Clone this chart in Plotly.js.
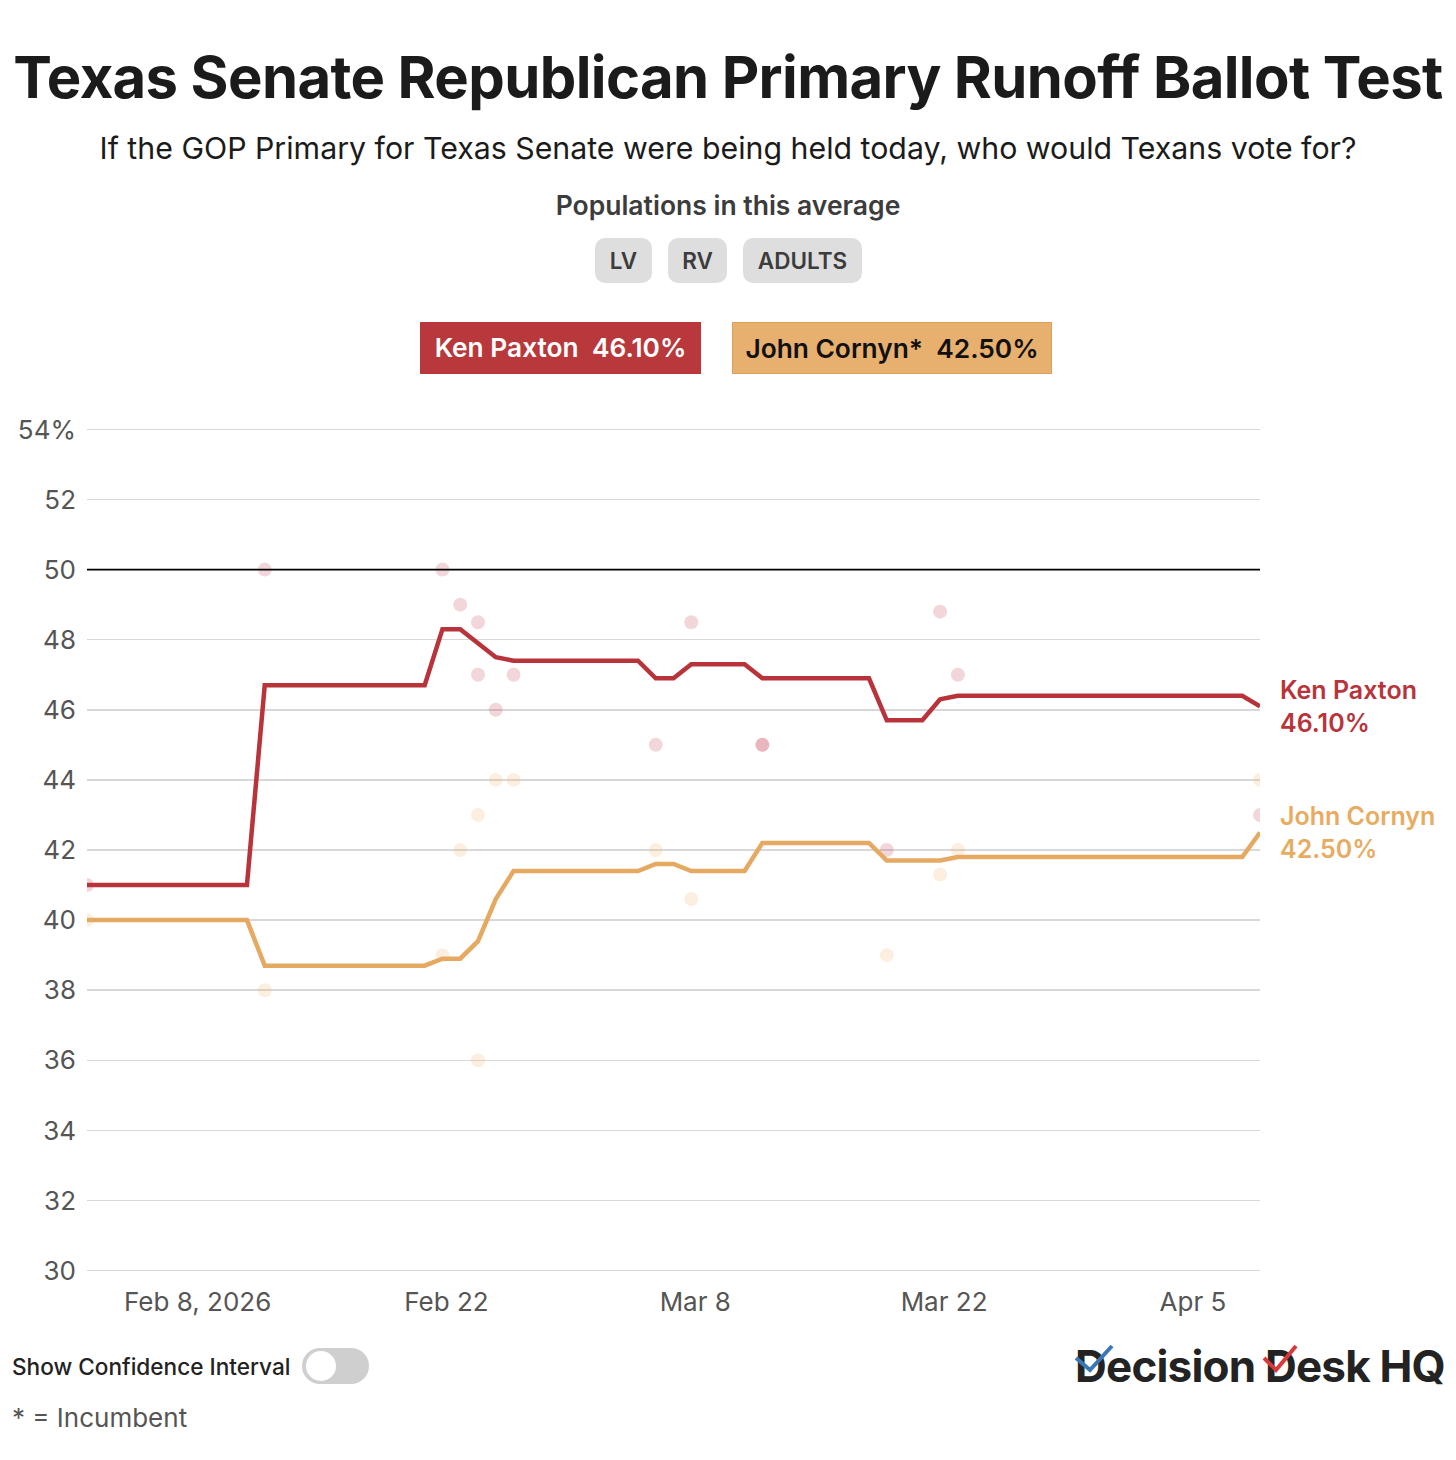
<!DOCTYPE html>
<html>
<head>
<meta charset="utf-8">
<script src="https://cdn.plot.ly/plotly-3.0.1.min.js"></script>
<style>
  body { margin: 0; background: #fff; font-family: Inter, "Noto Sans", sans-serif; }
  #wrap { position: relative; width: 1456px; height: 1460px; overflow: hidden; }
  #chart { position: absolute; left: 0; top: 0; width: 1456px; height: 1460px; }
  .abs { position: absolute; white-space: nowrap; z-index: 5; }
  .mid { transform: translateY(-50%); }
  .ctr { left: 0; width: 1456px; text-align: center; }
  #title { font-weight: 700; font-size: 58px; color: #1b1b1b; top: 77px; }
  #subtitle { font-size: 30.3px; color: #1b1b1b; top: 148px; }
  #pops { font-weight: 600; font-size: 26.5px; color: #3c3c3c; top: 205px; }
  .pill { top: 238px; height: 45px; line-height: 45px; background: #dedede; border-radius: 10px;
          text-align: center; font-weight: 600; font-size: 22.5px; color: #3c3c3c; }
  .box { top: 322px; height: 52px; line-height: 52px; text-align: center; font-weight: 600; font-size: 26.3px; box-sizing: border-box; }
  #toggle { left: 302px; top: 1348px; width: 67px; height: 36px; border-radius: 18px; background: #cfcfcf; }
  #knob { position: absolute; left: 4px; top: 3px; width: 30px; height: 30px; border-radius: 15px; background: #fff; }
</style>
</head>
<body>
<div id="wrap">
  <div id="chart"></div>
  <div id="title" class="abs mid ctr">Texas Senate Republican Primary Runoff Ballot Test</div>
  <div id="subtitle" class="abs mid ctr">If the GOP Primary for Texas Senate were being held today, who would Texans vote for?</div>
  <div id="pops" class="abs mid ctr">Populations in this average</div>
  <div class="abs pill" style="left:595px;width:57px">LV</div>
  <div class="abs pill" style="left:668px;width:59px">RV</div>
  <div class="abs pill" style="left:743px;width:119px">ADULTS</div>
  <div class="abs box" style="left:420px;width:281px;background:#b8383b;color:#fff">Ken Paxton&nbsp;&nbsp;46.10%</div>
  <div class="abs box" style="left:732px;width:320px;background:#e8b06e;border:1px solid #dca15c;color:#111">John Cornyn*&nbsp;&nbsp;42.50%</div>
  <div class="abs mid" style="left:12px;top:1366px;font-size:22.6px;font-weight:500;color:#222">Show Confidence Interval</div>
  <div id="toggle" class="abs"><div id="knob"></div></div>
  <div class="abs mid" style="left:12px;top:1417px;font-size:26px;color:#555">* = Incumbent</div>
  <div id="logo" class="abs mid" style="left:1075px;top:1366px;font-size:44px;font-weight:700;color:#232323;letter-spacing:-0.8px">Decision Desk HQ</div>
  <svg class="abs" style="left:1070px;top:1340px" width="380" height="40">
    <polyline points="6,18 20,30 42,6" fill="none" stroke="#3a78b5" stroke-width="4"/>
    <polyline points="194,18 206,30 226,6" fill="none" stroke="#d63a3a" stroke-width="4"/>
  </svg>
</div>
<script>
// poll average (Paxton / Cornyn), vertices
var avgDates = ['2026-02-02','2026-02-11','2026-02-12','2026-02-21','2026-02-22','2026-02-23','2026-02-24','2026-02-25','2026-02-26',
                '2026-03-05','2026-03-06','2026-03-07','2026-03-08','2026-03-11','2026-03-12','2026-03-18','2026-03-19','2026-03-21',
                '2026-03-22','2026-03-23','2026-04-08','2026-04-09'];
var paxtonAvg = [41.0,41.0,46.7,46.7,48.3,48.3,47.9,47.5,47.4,
                 47.4,46.9,46.9,47.3,47.3,46.9,46.9,45.7,45.7,
                 46.3,46.4,46.4,46.1];
var cornynAvg = [40.0,40.0,38.7,38.7,38.9,38.9,39.4,40.6,41.4,
                 41.4,41.6,41.6,41.4,41.4,42.2,42.2,41.7,41.7,
                 41.7,41.8,41.8,42.5];

// individual polls
var pollDates = ['2026-02-02','2026-02-12','2026-02-22','2026-02-23','2026-02-24','2026-02-24','2026-02-25','2026-02-26',
                 '2026-03-06','2026-03-08','2026-03-12','2026-03-12','2026-03-19','2026-03-22','2026-03-23','2026-04-09'];
var paxtonPolls = [41,50,50,49,48.5,47,46,47,45,48.5,45,45,42,48.8,47,43];
var cornynPolls = [40,38,39,42,43,36,44,44,42,40.6,null,null,39,41.3,42,44];

var yTicks = [30,32,34,36,38,40,42,44,46,48,50,52,54];
var yTickText = ['30','32','34','36','38','40','42','44','46','48','50','52','54%'];
var xTicks = ['2026-02-08','2026-02-22','2026-03-08','2026-03-22','2026-04-05'];
var xTickText = ['Feb 8, 2026','Feb 22','Mar 8','Mar 22','Apr 5'];

var RED = '#b8343a', ORANGE = '#e6a961';

var traces = [
  {x: pollDates, y: cornynPolls, type: 'scatter', mode: 'markers', hoverinfo: 'skip',
   marker: {size: 14, color: 'rgba(240,180,110,0.22)'}},
  {x: pollDates, y: paxtonPolls, type: 'scatter', mode: 'markers', hoverinfo: 'skip',
   marker: {size: 14, color: 'rgba(200,70,85,0.22)'}},
  {x: avgDates, y: cornynAvg, type: 'scatter', mode: 'lines', name: 'John Cornyn',
   line: {color: ORANGE, width: 4.5}},
  {x: avgDates, y: paxtonAvg, type: 'scatter', mode: 'lines', name: 'Ken Paxton',
   line: {color: RED, width: 4.5}}
];

var layout = {
  width: 1456, height: 1460,
  margin: {l: 87, r: 196, t: 428, b: 188},
  paper_bgcolor: 'rgba(0,0,0,0)',
  plot_bgcolor: '#fff',
  showlegend: false,
  font: {family: 'Inter, sans-serif', size: 26, color: '#555'},
  xaxis: {
    type: 'date',
    range: ['2026-02-02', '2026-04-09'],
    tickvals: xTicks, ticktext: xTickText,
    showgrid: false, zeroline: false, showline: false,
    ticks: '', ticklabelstandoff: 12, ticklabelshift: 4,
    tickfont: {size: 26, color: '#555'}
  },
  yaxis: {
    range: [29.96, 54.04],
    tickvals: yTicks, ticktext: yTickText,
    gridcolor: '#d8d8d8', gridwidth: 1.5,
    zeroline: false, showline: false,
    ticks: '', ticklabelstandoff: 10,
    tickfont: {size: 26, color: '#555'}
  },
  shapes: [
    {type: 'line', xref: 'paper', yref: 'y', x0: 0, x1: 1, y0: 50, y1: 50,
     line: {color: '#000', width: 1.6}, layer: 'above'}
  ],
  annotations: [
    {x: avgDates[avgDates.length - 1], y: paxtonAvg[paxtonAvg.length - 1], xref: 'x', yref: 'y',
     text: 'Ken Paxton<br>46.10%', showarrow: false, xanchor: 'left', yanchor: 'middle', align: 'left',
     xshift: 18, font: {size: 25, color: RED, weight: 600, family: 'Inter, sans-serif'}},
    {x: avgDates[avgDates.length - 1], y: cornynAvg[cornynAvg.length - 1], xref: 'x', yref: 'y',
     text: 'John Cornyn<br>42.50%', showarrow: false, xanchor: 'left', yanchor: 'middle', align: 'left',
     xshift: 18, font: {size: 25, color: '#e8ab62', weight: 600, family: 'Inter, sans-serif'}}
  ]
};

Plotly.newPlot('chart', traces, layout, {staticPlot: true, displayModeBar: false});

// stretch the title to the width it has in the reference
var t = document.getElementById('title');
var span = document.createElement('span');
span.textContent = t.textContent;
t.textContent = '';
t.appendChild(span);
var w = span.getBoundingClientRect().width;
var n = span.textContent.length - 1;
span.style.letterSpacing = ((1430 - w) / n) + 'px';
</script>
</body>
</html>
